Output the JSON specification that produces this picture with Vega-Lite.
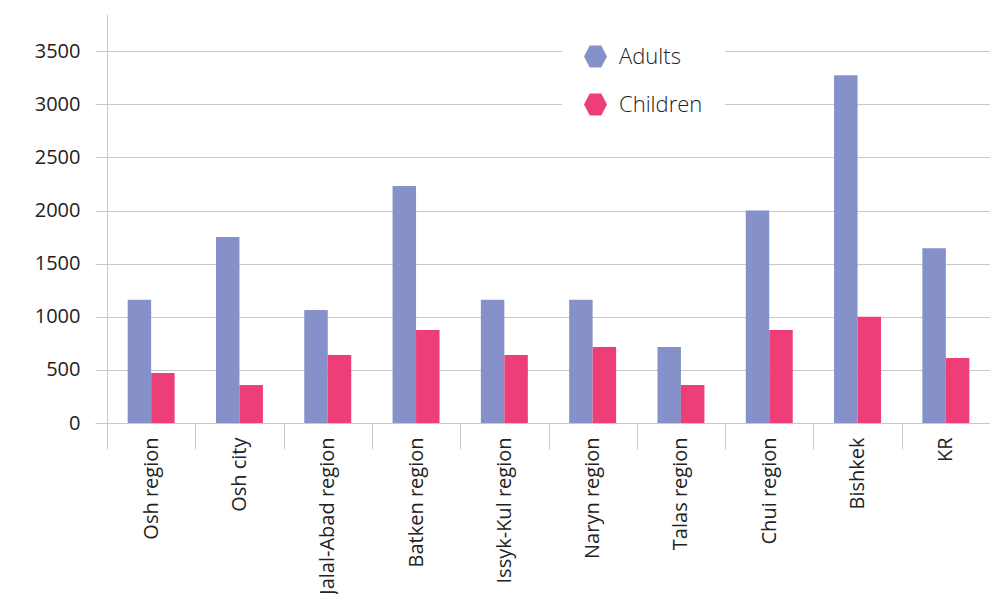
{
  "$schema": "https://vega.github.io/schema/vega-lite/v6.json",
  "autosize": "none",
  "width": 883,
  "height": 409,
  "padding": {"left": 107, "top": 14, "right": 0, "bottom": 171},
  "background": "white",
  "config": {
    "font": "Open Sans",
    "view": {"stroke": null}
  },
  "data": {
    "values": [
      {"region": "Osh region", "group": "Adults", "value": 1160},
      {"region": "Osh region", "group": "Children", "value": 470},
      {"region": "Osh city", "group": "Adults", "value": 1750},
      {"region": "Osh city", "group": "Children", "value": 357},
      {"region": "Jalal-Abad region", "group": "Adults", "value": 1063},
      {"region": "Jalal-Abad region", "group": "Children", "value": 640},
      {"region": "Batken region", "group": "Adults", "value": 2230},
      {"region": "Batken region", "group": "Children", "value": 875},
      {"region": "Issyk-Kul region", "group": "Adults", "value": 1160},
      {"region": "Issyk-Kul region", "group": "Children", "value": 640},
      {"region": "Naryn region", "group": "Adults", "value": 1160},
      {"region": "Naryn region", "group": "Children", "value": 715},
      {"region": "Talas region", "group": "Adults", "value": 715},
      {"region": "Talas region", "group": "Children", "value": 357},
      {"region": "Chui region", "group": "Adults", "value": 2000},
      {"region": "Chui region", "group": "Children", "value": 875},
      {"region": "Bishkek", "group": "Adults", "value": 3274},
      {"region": "Bishkek", "group": "Children", "value": 1000},
      {"region": "KR", "group": "Adults", "value": 1646},
      {"region": "KR", "group": "Children", "value": 611}
    ]
  },
  "mark": {"type": "bar"},
  "encoding": {
    "x": {
      "field": "region",
      "type": "nominal",
      "sort": null,
      "scale": {"paddingInner": 0, "paddingOuter": 0},
      "axis": {
        "title": null,
        "tickBand": "extent",
        "labelAngle": -90,
        "labelAlign": "right",
        "labelBaseline": "middle",
        "labelFontSize": 20,
        "labelColor": "#222222",
        "labelPadding": -12,
        "tickSize": 26,
        "tickColor": "#c8c8c8",
        "domainColor": "#c8c8c8",
        "labelLimit": 300
      }
    },
    "xOffset": {
      "field": "group",
      "type": "nominal",
      "scale": {"paddingInner": 0, "paddingOuter": 0.88}
    },
    "y": {
      "field": "value",
      "type": "quantitative",
      "scale": {"domain": [0, 3850], "nice": false},
      "axis": {
        "title": null,
        "values": [0, 500, 1000, 1500, 2000, 2500, 3000, 3500],
        "format": "d",
        "labelFontSize": 20,
        "labelColor": "#222222",
        "labelPadding": 15,
        "tickSize": 12,
        "tickColor": "#c8c8c8",
        "gridColor": "#c8c8c8",
        "domainColor": "#c8c8c8",
        "grid": true
      }
    },
    "color": {
      "field": "group",
      "type": "nominal",
      "scale": {"domain": ["Adults", "Children"], "range": ["#8591C8", "#EE3E77"]},
      "legend": {
        "title": null,
        "orient": "none",
        "legendX": 455,
        "legendY": 9,
        "fillColor": "white",
        "padding": 22,
        "symbolType": "M-1,0L-0.5,-0.95L0.5,-0.95L1,0L0.5,0.95L-0.5,0.95Z",
        "symbolSize": 529,
        "symbolStrokeWidth": 0,
        "labelFontSize": 22,
        "labelFontWeight": 300,
        "labelColor": "#222222",
        "labelOffset": 12,
        "labelLimit": 400,
        "rowPadding": 25,
        "labelExpr": "datum.label + '\u00a0\u00a0\u00a0\u00a0\u00a0\u00a0\u00a0\u00a0\u00a0\u00a0\u00a0\u00a0'",
        "encode": {
          "symbols": {
            "update": {
              "fill": {"condition": {"test": "datum.value === 'Adults'", "value": "#9B99CC"}, "value": "#9E3066"}
            }
          }
        }
      }
    }
  }
}
